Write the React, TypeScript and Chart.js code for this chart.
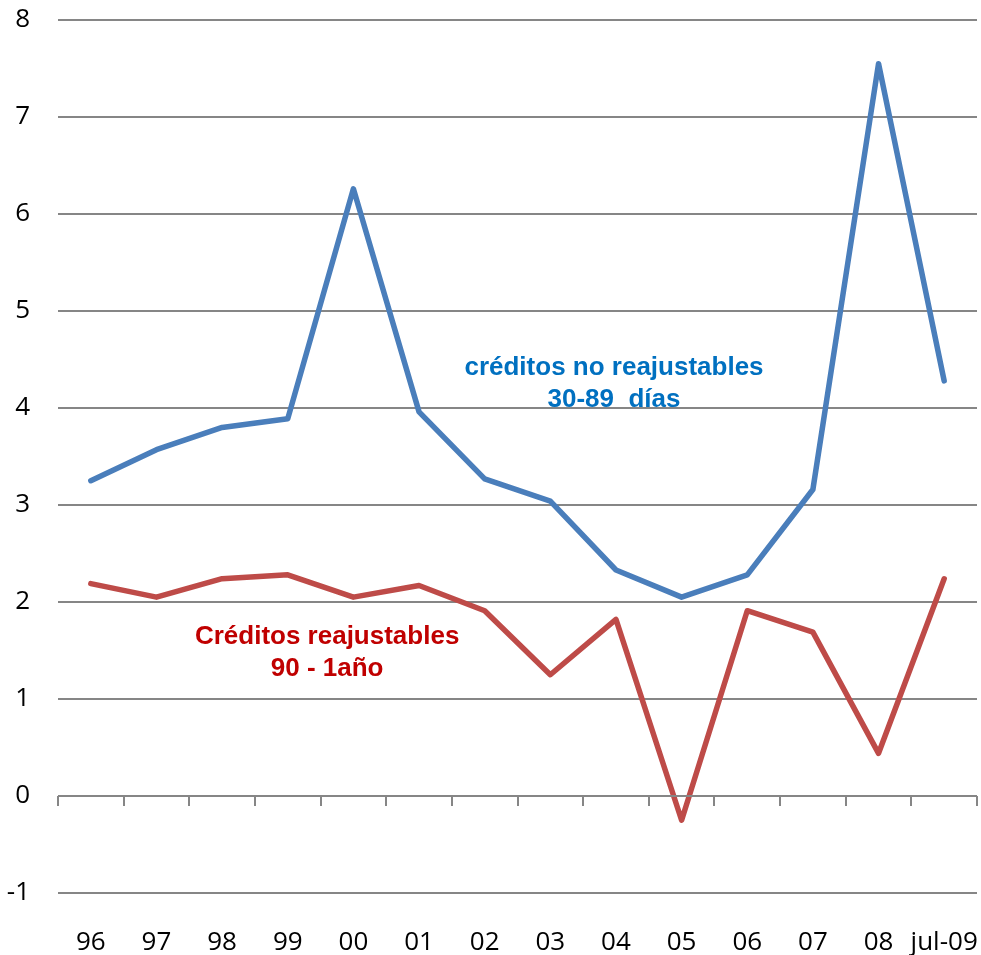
import React, { useEffect, useRef } from "react";
import { Chart, registerables } from "chart.js";

Chart.register(...registerables);

const categories = ["96", "97", "98", "99", "00", "01", "02", "03", "04", "05", "06", "07", "08", "jul-09"];
const noReajustables = [3.25, 3.57, 3.8, 3.89, 6.26, 3.96, 3.27, 3.04, 2.33, 2.05, 2.28, 3.16, 7.55, 4.28];
const reajustables = [2.19, 2.05, 2.24, 2.28, 2.05, 2.17, 1.91, 1.25, 1.82, -0.25, 1.91, 1.69, 0.44, 2.24];
const yTicks = [-1, 0, 1, 2, 3, 4, 5, 6, 7, 8];

const blueLabel = ["créditos no reajustables", "30-89  días"];
const redLabel = ["Créditos reajustables", "90 - 1año"];

const zeroAxisPlugin = {
  id: "zeroAxis",
  afterDatasetsDraw(chart: any) {
    const { ctx, scales, chartArea } = chart;
    const x = scales.x;
    const y = scales.y;
    const y0 = y.getPixelForValue(0);
    ctx.save();
    ctx.strokeStyle = "#868686";
    ctx.lineWidth = 2;
    ctx.beginPath();
    ctx.moveTo(chartArea.left, y0);
    ctx.lineTo(chartArea.right, y0);
    const n = categories.length;
    const step = (chartArea.right - chartArea.left) / n;
    for (let i = 0; i <= n; i++) {
      const px = Math.round(chartArea.left + i * step);
      ctx.moveTo(px, y0);
      ctx.lineTo(px, y0 + 10);
    }
    ctx.stroke();

    ctx.font = "bold 26px 'Liberation Sans', Arial, sans-serif";
    ctx.textAlign = "center";
    ctx.textBaseline = "middle";
    ctx.fillStyle = "#0070C0";
    const bx = x.getPixelForValue(7.97);
    ctx.fillText(blueLabel[0], bx, y.getPixelForValue(4.41));
    ctx.fillText(blueLabel[1], bx, y.getPixelForValue(4.08));
    ctx.fillStyle = "#C00000";
    const rx = x.getPixelForValue(3.6);
    ctx.fillText(redLabel[0], rx, y.getPixelForValue(1.64));
    ctx.fillText(redLabel[1], rx, y.getPixelForValue(1.31));
    ctx.restore();
  },
};

export default function App() {
  const ref = useRef<HTMLCanvasElement>(null);
  useEffect(() => {
    if (!ref.current) return;
    const chart = new Chart(ref.current, {
      type: "line",
      data: {
        labels: categories,
        datasets: [
          {
            data: noReajustables,
            borderColor: "#4A7EBB",
            borderWidth: 5.5,
            pointRadius: 0,
            tension: 0,
            borderJoinStyle: "round",
            borderCapStyle: "round",
          },
          {
            data: reajustables,
            borderColor: "#BE4B48",
            borderWidth: 5.5,
            pointRadius: 0,
            tension: 0,
            borderJoinStyle: "round",
            borderCapStyle: "round",
          },
        ],
      },
      options: {
        animation: false,
        responsive: false,
        layout: { padding: { top: 20, right: 4, left: 0, bottom: 0 } },
        plugins: { legend: { display: false }, tooltip: { enabled: false } },
        scales: {
          x: {
            offset: true,
            grid: { display: false, drawTicks: false },
            border: { display: false },
            ticks: {
              padding: 34,
              color: "#000",
              font: { family: "'Open Sans', sans-serif", size: 26 },
              maxRotation: 0,
              autoSkip: false,
            },
            afterFit(scale: any) {
              scale.height = 62;
              scale.paddingLeft = 0;
              scale.paddingRight = 0;
            },
          },
          y: {
            min: -1,
            max: 8,
            afterBuildTicks(scale: any) {
              scale.ticks = yTicks.map((v) => ({ value: v }));
            },
            grid: { color: "#868686", lineWidth: 2, drawTicks: false },
            border: { display: false },
            ticks: {
              padding: 28,
              color: "#000",
              font: { family: "'Open Sans', sans-serif", size: 26 },
            },
            afterFit(scale: any) {
              scale.width = 58;
              scale.paddingTop = 0;
              scale.paddingBottom = 0;
            },
          },
        },
      },
      plugins: [zeroAxisPlugin],
    });
    return () => chart.destroy();
  }, []);
  return (
    <div style={{ position: "absolute", left: 0, top: 0, width: 981, height: 955, background: "#fff" }}>
      <canvas ref={ref} width={981} height={955} />
    </div>
  );
}
